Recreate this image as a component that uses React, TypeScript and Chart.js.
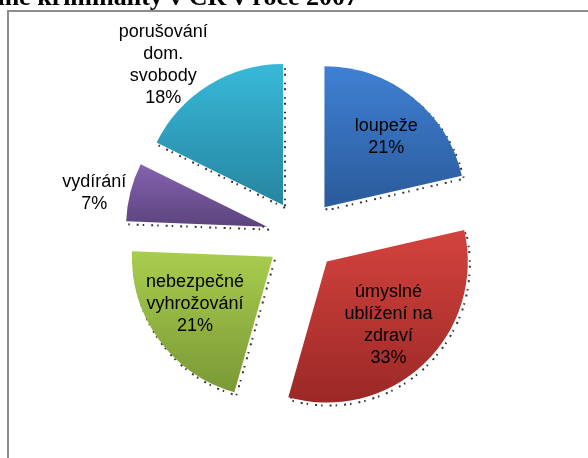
import React, { useEffect, useRef } from 'react';
import { Chart, registerables } from 'chart.js';

Chart.register(...registerables);

// ---- data ----
const categories = [
  'loupeže',
  'úmyslné ublížení na zdraví',
  'nebezpečné vyhrožování',
  'vydírání',
  'porušování dom. svobody',
];
const labelLines = [
  ['loupeže'],
  ['úmyslné', 'ublížení na', 'zdraví'],
  ['nebezpečné', 'vyhrožování'],
  ['vydírání'],
  ['porušování', 'dom.', 'svobody'],
];
const shares = [21.4, 33.0, 21.2, 6.7, 17.7];
const titleText = 'Struktura násilné kriminality v ČR v roce 2007';

// ---- styles ----
const topColors = ['#3f80d4', '#d4433e', '#a9cd4e', '#8563b0', '#38b9d9'];
const bottomColors = ['#2a5b9a', '#9b2826', '#7a9935', '#5c437d', '#2685a0'];
const EXPLODE = 36;
// [angle shift in degrees, distance from apex as fraction of radius]
const labelPolar = [
  [1.7, 0.67],
  [-0.9, 0.62],
  [4, 0.64],
  [-2.3, 1.25],
  [-7.1, 1.31],
];
const LINE_H = 22;

function yExtent(s: number, e: number, r: number) {
  const ys = [0, r * Math.sin(s), r * Math.sin(e)];
  const inRange = (a: number) => {
    for (let k = -2; k <= 2; k++) {
      const b = a + k * 2 * Math.PI;
      if (b >= s && b <= e) return true;
    }
    return false;
  };
  if (inRange(Math.PI / 2)) ys.push(r);
  if (inRange(-Math.PI / 2)) ys.push(-r);
  return [Math.min(...ys), Math.max(...ys)];
}

const piePlugin = {
  id: 'explodedPie',
  beforeDatasetsDraw(chart: any) {
    const meta = chart.getDatasetMeta(0);
    const ctx = chart.ctx as CanvasRenderingContext2D;
    // shadows
    meta.data.forEach((arc: any) => {
      const { x, y, startAngle, endAngle, outerRadius } = arc.getProps(
        ['x', 'y', 'startAngle', 'endAngle', 'outerRadius'],
        true
      );
      const mid = (startAngle + endAngle) / 2;
      ctx.save();
      ctx.translate(Math.cos(mid) * EXPLODE + 2, Math.sin(mid) * EXPLODE + 3);
      ctx.beginPath();
      ctx.moveTo(x, y);
      ctx.arc(x, y, outerRadius, startAngle, endAngle);
      ctx.closePath();
      ctx.setLineDash([2, 7, 1.5, 4]);
      ctx.lineWidth = 2;
      ctx.strokeStyle = 'rgba(0,0,0,0.8)';
      ctx.stroke();
      ctx.restore();
    });
    // slices
    meta.data.forEach((arc: any, i: number) => {
      const { x, y, startAngle, endAngle, outerRadius } = arc.getProps(
        ['x', 'y', 'startAngle', 'endAngle', 'outerRadius'],
        true
      );
      const mid = (startAngle + endAngle) / 2;
      const [y0, y1] = yExtent(startAngle, endAngle, outerRadius);
      const grad = ctx.createLinearGradient(0, y + y0, 0, y + y1);
      grad.addColorStop(0, topColors[i]);
      grad.addColorStop(1, bottomColors[i]);
      ctx.save();
      ctx.translate(Math.cos(mid) * EXPLODE, Math.sin(mid) * EXPLODE);
      const orig = arc.options;
      arc.options = Object.assign({}, orig, { backgroundColor: grad, borderWidth: 0, offset: 0 });
      arc.draw(ctx);
      arc.options = orig;
      ctx.restore();
    });
    return false;
  },
  afterDraw(chart: any) {
    const meta = chart.getDatasetMeta(0);
    const ctx = chart.ctx as CanvasRenderingContext2D;
    const data = chart.data.datasets[0].data as number[];
    const total = data.reduce((a, b) => a + b, 0);
    ctx.save();
    ctx.fillStyle = '#000';
    ctx.font = '18px "Liberation Sans", Arial, sans-serif';
    ctx.textAlign = 'center';
    ctx.textBaseline = 'alphabetic';
    meta.data.forEach((arc: any, i: number) => {
      const { x, y, startAngle, endAngle, outerRadius } = arc.getProps(
        ['x', 'y', 'startAngle', 'endAngle', 'outerRadius'],
        true
      );
      const [shift, frac] = labelPolar[i];
      const a = (startAngle + endAngle) / 2 + (shift * Math.PI) / 180;
      const d = EXPLODE + frac * outerRadius;
      const cx = x + Math.cos(a) * d;
      const cy = y + Math.sin(a) * d;
      const lines = [...labelLines[i], Math.round((data[i] / total) * 100) + '%'];
      const first = cy - ((lines.length - 1) * LINE_H) / 2 + 6.5;
      lines.forEach((t, k) => ctx.fillText(t, cx, first + k * LINE_H));
    });
    ctx.restore();

    // frame
    ctx.save();
    ctx.strokeStyle = '#8c8c8c';
    ctx.lineWidth = 2;
    ctx.beginPath();
    ctx.moveTo(8, 470);
    ctx.lineTo(8, 11);
    ctx.lineTo(600, 11);
    ctx.stroke();
    ctx.restore();

    // title (partly above the page)
    ctx.save();
    ctx.fillStyle = '#000';
    ctx.font = 'bold 26px "Liberation Serif", "Times New Roman", serif';
    ctx.textAlign = 'right';
    ctx.textBaseline = 'alphabetic';
    ctx.fillText(titleText, 358, 5);
    ctx.restore();
  },
};

export default function App() {
  const ref = useRef<HTMLCanvasElement | null>(null);
  useEffect(() => {
    if (!ref.current) return;
    const chart = new Chart(ref.current, {
      type: 'pie',
      data: {
        labels: categories,
        datasets: [
          {
            data: shares,
            backgroundColor: topColors,
            borderWidth: 0,
            radius: 141,
          } as any,
        ],
      },
      options: {
        animation: false,
        responsive: false,
        events: [],
        layout: { padding: { left: 16, top: 13, right: 0, bottom: 0 } },
        plugins: {
          legend: { display: false },
          title: { display: false },
          tooltip: { enabled: false },
        },
      },
      plugins: [piePlugin],
    });
    return () => chart.destroy();
  }, []);
  return (
    <div style={{ position: 'absolute', left: 0, top: 0, width: 588, height: 458, background: '#fff' }}>
      <canvas ref={ref} width={588} height={458} style={{ display: 'block' }} />
    </div>
  );
}
